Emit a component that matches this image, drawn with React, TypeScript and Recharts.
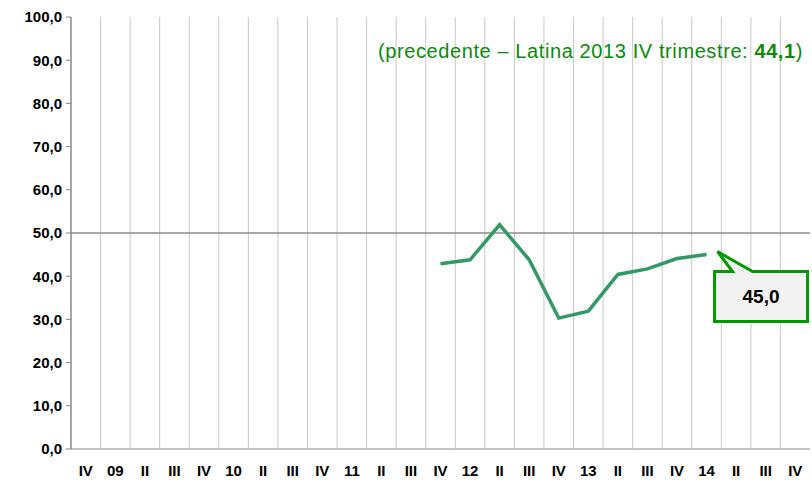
import React from "react";
import {
  LineChart,
  Line,
  XAxis,
  YAxis,
  CartesianGrid,
  ReferenceLine,
} from "recharts";

const quarters = [
  "IV", "09", "II", "III", "IV", "10", "II", "III", "IV", "11", "II", "III", "IV",
  "12", "II", "III", "IV", "13", "II", "III", "IV", "14", "II", "III", "IV",
];

const values: (number | null)[] = [
  null, null, null, null, null, null, null, null, null, null, null, null,
  42.9, 43.8, 51.9, 43.8, 30.3, 31.9, 40.4, 41.7, 44.1, 45.0,
  null, null, null,
];

const yTicks = [0, 10, 20, 30, 40, 50, 60, 70, 80, 90, 100];

const lastIndex = 21;
const lastLabel = "45,0";

const data = quarters.map((q, i) => ({ q, v: values[i] }));

const FONT = "'Liberation Sans', Arial, sans-serif";
const W = 812;
const H = 480;
const PLOT_LEFT = 71;
const PLOT_RIGHT_MARGIN = 2;
// half a quarter's slot, so points sit in the middle of each gridline cell
const HALF_SLOT = (W - PLOT_LEFT - PLOT_RIGHT_MARGIN) / quarters.length / 2;

const fmt = (v: number) => v.toFixed(1).replace(".", ",");

const Callout = (props: any) => {
  const { x, y, index } = props;
  if (index !== lastIndex || x == null || y == null) return null;
  const tipX = x + 11;
  const tipY = y - 3;
  const left = x + 8;
  const top = y + 17;
  const right = x + 101;
  const bottom = y + 67;
  const d = `M${left},${top} L${x + 26},${top} L${tipX},${tipY} L${x + 46},${top} L${right},${top} L${right},${bottom} L${left},${bottom} Z`;
  return (
    <g>
      <path d={d} fill="#f2f2f2" stroke="#009900" strokeWidth={3} strokeLinejoin="miter" />
      <text
        x={(left + right) / 2}
        y={(top + bottom) / 2}
        dy="0.36em"
        textAnchor="middle"
        fontFamily={FONT}
        fontWeight="bold"
        fontSize={19}
        fill="#000"
      >
        {lastLabel}
      </text>
    </g>
  );
};

const App = () => {
  const gridX = ({ offset }: any) => {
    const xs: number[] = [];
    for (let i = 1; i < quarters.length; i++) {
      xs.push(offset.left + (i * offset.width) / quarters.length);
    }
    return xs;
  };

  return (
    <div style={{ position: "absolute", left: 0, top: 0, width: W, height: H }}>
      <LineChart
        width={W}
        height={H}
        data={data}
        margin={{ top: 17, right: PLOT_RIGHT_MARGIN, bottom: 0, left: 0 }}
      >
        <CartesianGrid
          horizontal={false}
          stroke="#c8c8c8"
          verticalCoordinatesGenerator={gridX}
        />
        <XAxis
          dataKey="q"
          interval={0}
          height={31}
          padding={{ left: HALF_SLOT, right: HALF_SLOT }}
          tickLine={false}
          tickSize={0}
          tickMargin={16}
          axisLine={{ stroke: "#b0b0b0", strokeWidth: 1.5 }}
          tick={{ fontFamily: FONT, fontSize: 15, fontWeight: "bold", fill: "#000" }}
        />
        <YAxis
          width={PLOT_LEFT}
          domain={[0, 100]}
          ticks={yTicks}
          interval={0}
          tickFormatter={fmt}
          tickSize={5}
          tickMargin={4}
          axisLine={{ stroke: "#888", strokeWidth: 1.5 }}
          tickLine={{ stroke: "#888" }}
          tick={{ fontFamily: FONT, fontSize: 15, fontWeight: "bold", fill: "#000" }}
        />
        <ReferenceLine y={50} stroke="#8c8c8c" strokeWidth={1.5} />
        <Line
          dataKey="v"
          stroke="#339966"
          strokeWidth={3.5}
          dot={false}
          isAnimationActive={false}
          label={<Callout />}
        />
      </LineChart>
      <div
        style={{
          position: "absolute",
          left: 378,
          top: 40,
          fontFamily: FONT,
          fontSize: 20,
          letterSpacing: 0.6,
          color: "#0a8a0a",
          whiteSpace: "nowrap",
        }}
      >
        (precedente – Latina 2013 IV trimestre: <b>44,1</b>)
      </div>
    </div>
  );
};

export default App;
